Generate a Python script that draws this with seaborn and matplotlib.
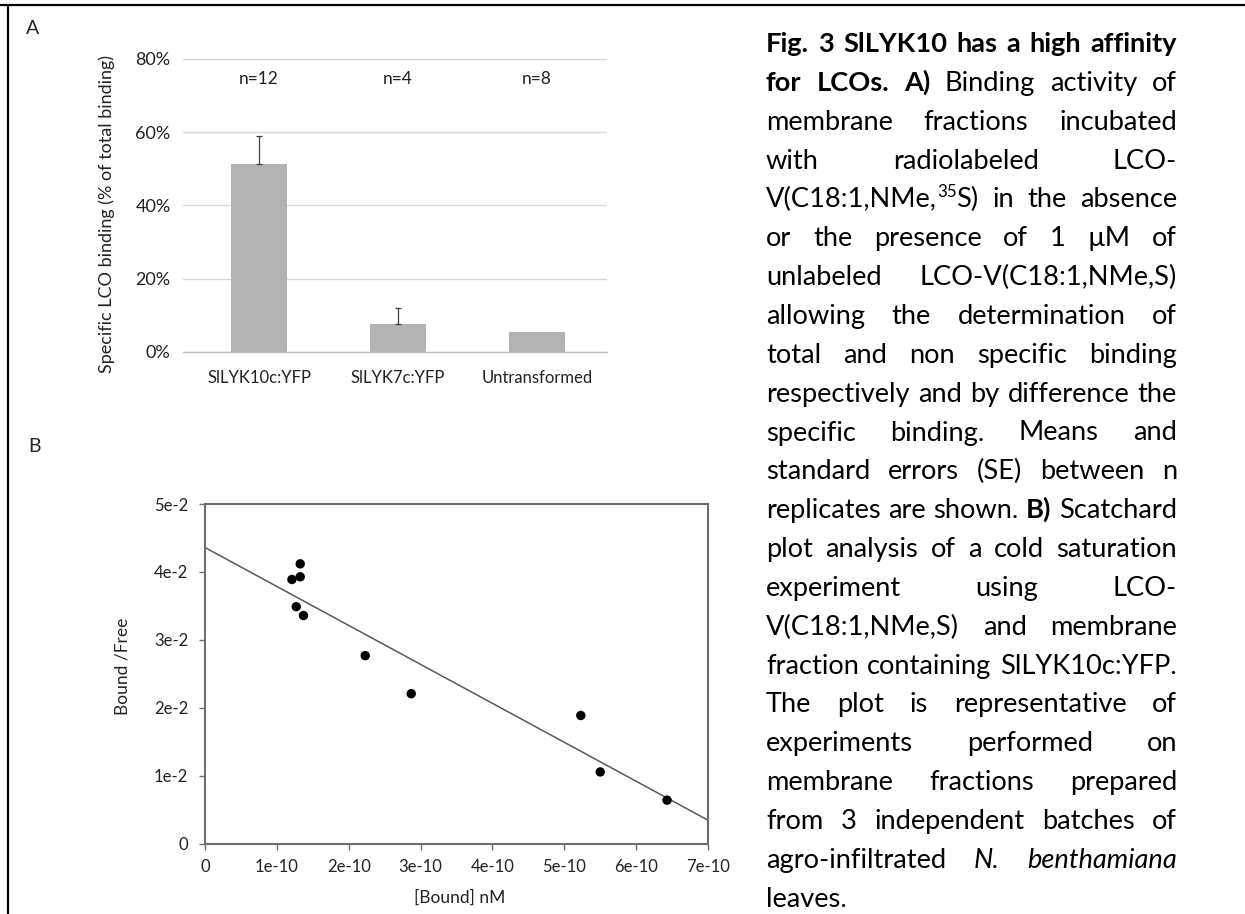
import matplotlib
matplotlib.use("Agg")
import matplotlib.pyplot as plt
from matplotlib.lines import Line2D
from matplotlib.transforms import IdentityTransform
import seaborn as sns
import pandas as pd

# Panel A: specific LCO binding
constructs = ["SlLYK10c:YFP", "SlLYK7c:YFP", "Untransformed"]
binding_mean = [51.2, 7.7, 5.5]
binding_se = [7.7, 4.3, 0.0]
n_labels = ["n=12", "n=4", "n=8"]
pct_ticks = [0, 20, 40, 60, 80]

# Panel B: Scatchard plot
bound_nM = [1.21e-10, 1.325e-10, 1.325e-10, 1.27e-10, 1.37e-10,
            2.23e-10, 2.87e-10, 5.23e-10, 5.50e-10, 6.43e-10]
bound_free = [3.89e-2, 3.93e-2, 4.12e-2, 3.49e-2, 3.36e-2,
              2.77e-2, 2.21e-2, 1.89e-2, 1.06e-2, 0.645e-2]
fit_x = [0, 7e-10]
fit_y = [4.36e-2, 0.35e-2]
x_ticks = [0, 1e-10, 2e-10, 3e-10, 4e-10, 5e-10, 6e-10, 7e-10]
x_ticklabels = ["0", "1e-10", "2e-10", "3e-10", "4e-10", "5e-10", "6e-10", "7e-10"]
y_ticks = [0, 1e-2, 2e-2, 3e-2, 4e-2, 5e-2]
y_ticklabels = ["0", "1e-2", "2e-2", "3e-2", "4e-2", "5e-2"]

# Caption, one entry per printed line: (text, style)
caption_lines = [
    [("Fig. 3 SlLYK10 has a high affinity", "b")],
    [("for LCOs. A)", "b"), (" Binding activity of", "n")],
    [("membrane fractions incubated", "n")],
    [("with radiolabeled LCO-", "n")],
    [("V(C18:1,NMe,", "n"), ("35", "sup"), ("S) in the absence", "n")],
    [("or the presence of 1 \u00b5M of", "n")],
    [("unlabeled LCO-V(C18:1,NMe,S)", "n")],
    [("allowing the determination of", "n")],
    [("total and non specific binding", "n")],
    [("respectively and by difference the", "n")],
    [("specific binding. Means and", "n")],
    [("standard errors (SE) between n", "n")],
    [("replicates are shown. ", "n"), ("B)", "b"), (" Scatchard", "n")],
    [("plot analysis of a cold saturation", "n")],
    [("experiment using LCO-", "n")],
    [("V(C18:1,NMe,S) and membrane", "n")],
    [("fraction containing SlLYK10c:YFP.", "n")],
    [("The plot is representative of", "n")],
    [("experiments performed on", "n")],
    [("membrane fractions prepared", "n")],
    [("from 3 independent batches of", "n")],
    [("agro-infiltrated ", "n"), ("N. benthamiana", "i")],
    [("leaves.", "n")],
]

sns.set_theme(style="white")
plt.rcParams["font.family"] = ["Lato", "DejaVu Sans"]

W, H = 1245, 914
fig = plt.figure(figsize=(W / 100, H / 100), dpi=100)

# ---- Panel A ----
axA = fig.add_axes([183 / W, 1 - 352 / H, 424 / W, 293 / H])
dfA = pd.DataFrame({"construct": constructs, "binding": binding_mean})
sns.barplot(data=dfA, x="construct", y="binding", order=constructs, color="#b2b2b2",
            saturation=1, width=0.40, errorbar=None, linewidth=0, ax=axA)
for i, (m, e) in enumerate(zip(binding_mean, binding_se)):
    if e > 0:
        axA.errorbar(i, m, yerr=[[0], [e]], color="#404040", lw=0.9, capsize=2, capthick=0.9)
for i, lab in enumerate(n_labels):
    axA.text(i, 74.5, lab, ha="center", va="center", fontsize=12.5, color="#222222")
axA.set_xlim(-0.547, 2.504)
axA.set_ylim(0, 80)
axA.set_yticks(pct_ticks)
axA.set_yticklabels([f"{t}%" for t in pct_ticks])
axA.yaxis.grid(True, color="#d9d9d9", lw=1)
axA.set_axisbelow(True)
for s in ["top", "right", "left"]:
    axA.spines[s].set_visible(False)
axA.spines["bottom"].set_color("#bfbfbf")
axA.spines["bottom"].set_linewidth(1)
axA.tick_params(axis="both", length=0, colors="#222222")
axA.tick_params(axis="y", pad=9, labelsize=13)
axA.tick_params(axis="x", pad=13, labelsize=12)
axA.set_xlabel("")
axA.set_ylabel("Specific LCO binding (% of total binding)", fontsize=13, color="#222222")
axA.yaxis.set_label_coords(-0.160, 0.47)

# ---- Panel B ----
axB = fig.add_axes([205 / W, 1 - 844 / H, 503 / W, 340 / H])
dfB = pd.DataFrame({"bound": bound_nM, "ratio": bound_free})
sns.lineplot(x=fit_x, y=fit_y, color="#595959", lw=1.1, ax=axB)
sns.scatterplot(data=dfB, x="bound", y="ratio", color="black", s=46, edgecolor="none",
                marker="o", ax=axB, zorder=3)
axB.set_xlim(0, 7e-10)
axB.set_ylim(0, 5e-2)
axB.set_xticks(x_ticks)
axB.set_xticklabels(x_ticklabels)
axB.set_yticks(y_ticks)
axB.set_yticklabels(y_ticklabels)
for s in axB.spines.values():
    s.set_visible(True)
    s.set_color("#6e6e6e")
    s.set_linewidth(1.5)
axB.tick_params(axis="both", direction="out", length=4, width=1, color="#6e6e6e",
                labelsize=12, labelcolor="#222222", bottom=True, left=True)
axB.tick_params(axis="y", pad=8)
axB.tick_params(axis="x", pad=7)
axB.set_xlabel("[Bound] nM", fontsize=12.5, color="#222222")
axB.set_ylabel("Bound /Free", fontsize=12.5, color="#222222")
axB.xaxis.set_label_coords(0.506, -0.135)
axB.yaxis.set_label_coords(-0.149, 0.524)

# panel letters
fig.text(33 / W, 1 - 28 / H, "A", fontsize=14, ha="center", va="center")
fig.text(35 / W, 1 - 447 / H, "B", fontsize=14, ha="center", va="center")

# frame lines (top and left)
fig.add_artist(Line2D([0, 1], [1 - 5 / H, 1 - 5 / H], color="black", lw=1.6,
                      transform=fig.transFigure))
fig.add_artist(Line2D([8 / W, 8 / W], [0, 1 - 5 / H], color="black", lw=1.6,
                      transform=fig.transFigure))

# ---- justified caption ----
cap_left, cap_right = 766, 1177
base0, step = 52, 38.85
renderer = fig.canvas.get_renderer()
ident = IdentityTransform()


def make_text(s, style, fs):
    kw = dict(fontsize=fs, color="black", ha="left", va="baseline", transform=ident)
    if style == "b":
        kw["fontweight"] = "bold"
    elif style == "i":
        kw["fontstyle"] = "italic"
    elif style == "sup":
        kw["fontsize"] = fs * 0.62
    return fig.text(0, 0, s, **kw)


def split_words(line):
    words, cur = [], []
    for text, style in line:
        parts = text.split(" ")
        if parts[0]:
            cur.append((parts[0], style))
        for p in parts[1:]:
            if cur:
                words.append(cur)
            cur = []
            if p:
                cur.append((p, style))
    if cur:
        words.append(cur)
    return words


def layout(fs, draw):
    probe_a = make_text("xx", "n", fs)
    probe_b = make_text("x x", "n", fs)
    space_w = (probe_b.get_window_extent(renderer).width
               - probe_a.get_window_extent(renderer).width)
    probe_a.remove()
    probe_b.remove()
    widest = 0
    for li, line in enumerate(caption_lines):
        placed = []
        for w in split_words(line):
            frags = []
            for text, style in w:
                t = make_text(text, style, fs)
                frags.append((t, style, t.get_window_extent(renderer).width))
            placed.append((frags, sum(f[2] for f in frags)))
        total = sum(p[1] for p in placed)
        widest = max(widest, total + space_w * (len(placed) - 1))
        if not draw:
            for frags, _ in placed:
                for t, _, _ in frags:
                    t.remove()
            continue
        last = li == len(caption_lines) - 1
        if len(placed) > 1 and not last:
            gap = (cap_right - cap_left - total) / (len(placed) - 1)
        else:
            gap = space_w
        y = H - (base0 + li * step)
        x = cap_left
        for frags, wsum in placed:
            for t, style, fw in frags:
                dy = fs * 100 / 72 * 0.38 if style == "sup" else 0
                t.set_position((x, y + dy))
                x += fw
            x += gap
    return widest


# scale the caption font so the tightest line just fills the column
base_fs = 16.0
widest = layout(base_fs, draw=False)
cap_fs = base_fs * (cap_right - cap_left) / widest
layout(cap_fs, draw=True)

fig.savefig("out.png", dpi=100)
